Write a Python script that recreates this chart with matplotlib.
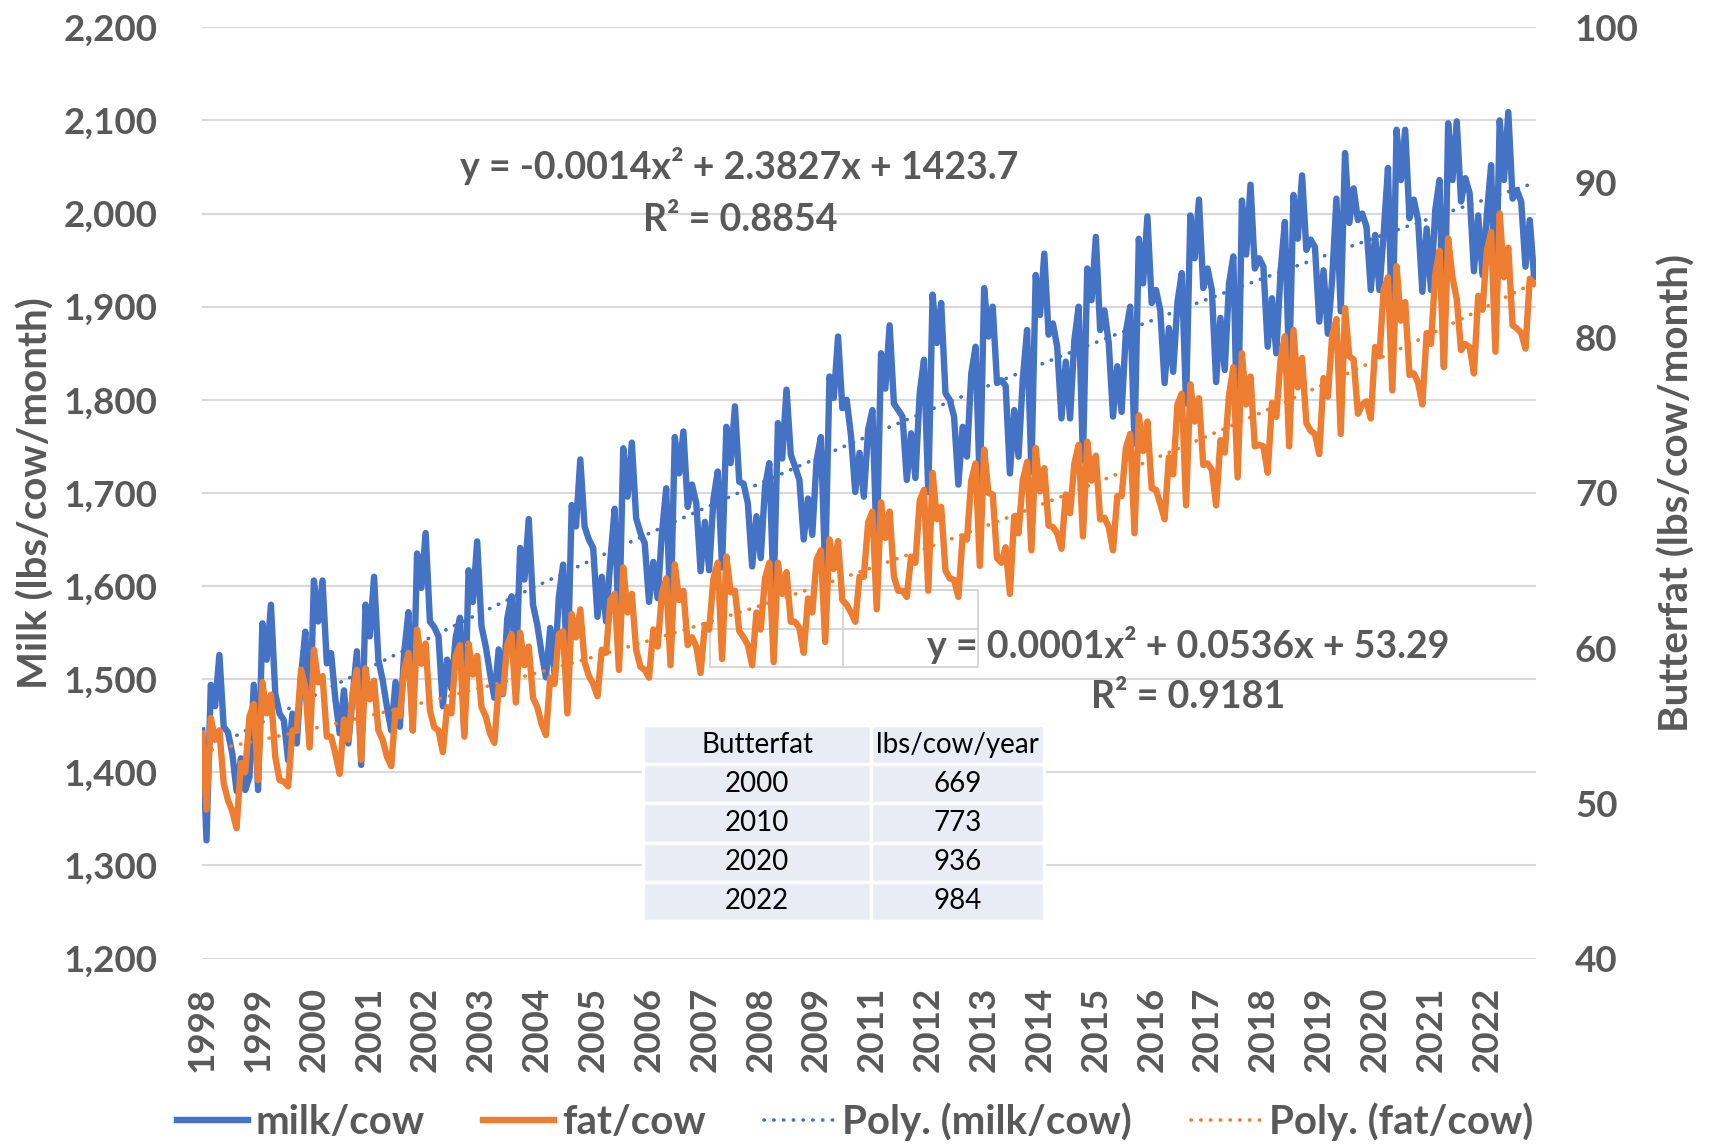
import numpy as np
import matplotlib
matplotlib.use("Agg")
import matplotlib.pyplot as plt
from matplotlib.patches import Rectangle
from matplotlib.lines import Line2D

# monthly milk per cow (lbs), Jan 1998 - Nov 2023
milk_per_cow = [
    1445, 1327, 1494, 1471, 1526, 1449, 1443, 1420, 1380, 1415, 1381, 1395,  # 1998
    1494, 1381, 1560, 1521, 1580, 1485, 1463, 1456, 1413, 1463, 1431, 1503,  # 1999
    1551, 1442, 1606, 1562, 1606, 1517, 1528, 1478, 1442, 1488, 1431, 1481,  # 2000
    1530, 1408, 1580, 1546, 1610, 1521, 1499, 1470, 1445, 1497, 1449, 1528,  # 2001
    1572, 1445, 1635, 1598, 1657, 1562, 1556, 1546, 1471, 1521, 1490, 1545,  # 2002
    1566, 1441, 1617, 1583, 1648, 1557, 1535, 1506, 1480, 1532, 1484, 1565,  # 2003
    1589, 1503, 1641, 1607, 1672, 1580, 1558, 1528, 1502, 1555, 1506, 1588,  # 2004
    1623, 1500, 1687, 1664, 1736, 1664, 1650, 1641, 1567, 1610, 1562, 1628,  # 2005
    1683, 1548, 1748, 1696, 1754, 1673, 1657, 1646, 1583, 1626, 1587, 1657,  # 2006
    1705, 1565, 1760, 1721, 1766, 1685, 1709, 1689, 1616, 1669, 1617, 1694,  # 2007
    1723, 1620, 1771, 1732, 1793, 1712, 1710, 1689, 1621, 1675, 1630, 1707,  # 2008
    1732, 1590, 1775, 1737, 1811, 1741, 1728, 1714, 1650, 1694, 1655, 1735,  # 2009
    1760, 1615, 1825, 1802, 1868, 1791, 1800, 1762, 1701, 1743, 1696, 1768,  # 2010
    1789, 1640, 1850, 1812, 1880, 1796, 1789, 1782, 1714, 1764, 1716, 1807,  # 2011
    1843, 1701, 1913, 1861, 1904, 1807, 1800, 1782, 1709, 1771, 1739, 1828,  # 2012
    1857, 1705, 1920, 1868, 1900, 1818, 1821, 1815, 1721, 1789, 1739, 1823,  # 2013
    1875, 1723, 1934, 1891, 1957, 1870, 1882, 1857, 1780, 1841, 1780, 1864,  # 2014
    1900, 1735, 1941, 1907, 1975, 1875, 1896, 1861, 1782, 1836, 1787, 1873,  # 2015
    1900, 1753, 1973, 1925, 1997, 1904, 1918, 1896, 1818, 1877, 1830, 1905,  # 2016
    1936, 1796, 1998, 1952, 2015, 1920, 1941, 1918, 1819, 1888, 1832, 1925,  # 2017
    1954, 1745, 2014, 1956, 2031, 1941, 1952, 1943, 1857, 1909, 1850, 1938,  # 2018
    1991, 1832, 2020, 1973, 2041, 1961, 1972, 1964, 1884, 1939, 1871, 1929,  # 2019
    2016, 1895, 2065, 1990, 2027, 1993, 2000, 1986, 1918, 1977, 1918, 1979,  # 2020
    2049, 1860, 2090, 2036, 2090, 1995, 2015, 1993, 1916, 1984, 1918, 2004,  # 2021
    2036, 1836, 2097, 2036, 2099, 2013, 2038, 2022, 1938, 1998, 1934, 1998,  # 2022
    2052, 1890, 2100, 2036, 2109, 2016, 2025, 2013, 1943, 1993, 1932,        # 2023
]

# monthly butterfat per cow (lbs)
fat_per_cow = [
    54.5, 49.6, 55.5, 54.1, 54.7, 51.3, 50.2, 49.5, 48.4, 52.6, 52.0, 55.6,  # 1998
    56.4, 51.5, 57.8, 55.8, 57.0, 53.0, 51.5, 51.4, 51.1, 54.7, 54.7, 58.6,  # 1999
    57.5, 53.6, 59.9, 57.8, 58.2, 54.3, 54.3, 53.2, 51.9, 55.4, 54.1, 57.1,  # 2000
    58.6, 52.8, 58.7, 56.7, 57.9, 54.7, 54.1, 53.0, 52.4, 56.0, 55.6, 58.6,  # 2001
    59.7, 54.7, 61.2, 59.0, 60.3, 56.0, 54.9, 54.7, 53.3, 56.2, 55.8, 59.5,  # 2002
    60.2, 54.3, 60.3, 58.3, 59.5, 56.2, 55.6, 54.5, 53.9, 57.5, 57.1, 60.2,  # 2003
    60.9, 56.5, 61.0, 58.9, 60.1, 56.8, 56.2, 55.1, 54.4, 58.1, 57.7, 60.9,  # 2004
    61.1, 55.8, 62.2, 60.7, 62.5, 59.1, 58.2, 57.7, 56.9, 59.9, 59.7, 63.1,  # 2005
    63.5, 58.6, 65.2, 62.3, 63.5, 59.9, 58.8, 58.6, 58.1, 61.2, 60.1, 63.5,  # 2006
    64.5, 58.9, 65.4, 63.1, 63.7, 60.2, 60.7, 60.1, 58.4, 61.5, 61.2, 64.5,  # 2007
    65.5, 59.3, 65.9, 63.6, 63.7, 61.1, 60.7, 60.2, 58.9, 62.3, 61.2, 64.5,  # 2008
    65.5, 59.1, 65.5, 63.5, 64.9, 61.7, 61.7, 61.3, 59.7, 63.2, 62.3, 65.7,  # 2009
    66.3, 60.4, 67.0, 65.1, 66.9, 63.1, 62.8, 62.3, 61.7, 64.6, 64.6, 68.1,  # 2010
    68.8, 62.5, 69.4, 67.1, 68.8, 64.6, 63.7, 63.7, 63.3, 65.9, 65.5, 69.5,  # 2011
    70.2, 63.7, 71.3, 68.3, 69.1, 65.0, 64.5, 64.4, 63.3, 67.2, 67.0, 70.8,  # 2012
    71.9, 65.3, 72.8, 70.0, 69.9, 65.8, 65.5, 66.5, 63.5, 68.5, 67.4, 70.8,  # 2013
    72.0, 66.3, 72.9, 70.1, 71.6, 67.9, 67.8, 67.4, 66.4, 69.9, 68.7, 71.9,  # 2014
    73.1, 67.2, 73.3, 70.8, 72.4, 68.3, 68.4, 67.8, 66.3, 69.8, 69.8, 72.9,  # 2015
    73.8, 67.4, 75.0, 72.7, 74.6, 70.3, 70.2, 69.3, 68.3, 72.3, 71.2, 75.7,  # 2016
    76.4, 69.2, 77.0, 74.6, 76.1, 71.8, 71.9, 71.5, 69.2, 73.4, 72.6, 76.3,  # 2017
    78.1, 71.0, 79.0, 75.7, 77.5, 73.0, 73.1, 73.0, 71.3, 75.8, 74.9, 78.6,  # 2018
    80.1, 73.0, 80.5, 76.8, 78.7, 74.5, 74.0, 73.8, 72.5, 77.4, 76.2, 80.1,  # 2019
    81.2, 73.8, 81.9, 78.8, 78.6, 75.1, 75.7, 75.9, 74.8, 79.4, 78.8, 83.1,  # 2020
    83.9, 76.6, 84.6, 81.1, 82.3, 77.6, 77.7, 77.1, 75.7, 80.3, 79.6, 84.1,  # 2021
    85.6, 78.1, 86.4, 83.9, 82.5, 79.2, 79.6, 79.4, 77.7, 82.7, 81.8, 85.6,  # 2022
    86.8, 79.1, 88.0, 83.9, 85.8, 80.8, 80.6, 80.3, 79.3, 83.8, 83.5,        # 2023
]

# category labels shown every 13 months on the axis
year_labels = ['1998', '1999', '2000', '2001', '2002', '2003', '2004', '2005',
               '2006', '2007', '2008', '2009', '2011', '2012', '2013', '2014',
               '2015', '2016', '2017', '2018', '2019', '2020', '2021', '2022']
label_step = 13

milk_eq = ["y = -0.0014x\u00b2 + 2.3827x + 1423.7", "R\u00b2 = 0.8854"]
fat_eq = ["y = 0.0001x\u00b2 + 0.0536x + 53.29", "R\u00b2 = 0.9181"]

table_header = ['Butterfat', 'lbs/cow/year']
table_years = ['2000', '2010', '2020', '2022']
table_fat = [669, 773, 936, 984]

BLUE = '#4472C4'
ORANGE = '#ED7D31'
GREY = '#595959'
FONT = ['Lato', 'DejaVu Sans']
W, H = 1714, 1146

fig = plt.figure(figsize=(W / 100, H / 100), dpi=100)
ax = fig.add_axes([202 / W, 1 - 958.6 / H, 1334 / W, 931.3 / H])
ax2 = ax.twinx()

x = np.arange(len(milk_per_cow))
milk = np.array(milk_per_cow, dtype=float)
fat = np.array(fat_per_cow, dtype=float)

# quadratic trends, fitted like Excel does (x = 1..n)
xf = x + 1
milk_trend = np.polyval(np.polyfit(xf, milk, 2), xf)
fat_trend = np.polyval(np.polyfit(xf, fat, 2), xf)

dots = (0, (0.1, 2.6))
ax.plot(x, milk, color=BLUE, lw=4.6, solid_joinstyle='round', zorder=3)
ax.plot(x, milk_trend, color=BLUE, lw=2.6, linestyle=dots,
        dash_capstyle='round', zorder=4)
ax2.plot(x, fat, color=ORANGE, lw=4.6, solid_joinstyle='round', zorder=3)
ax2.plot(x, fat_trend, color=ORANGE, lw=2.6, linestyle=dots,
         dash_capstyle='round', zorder=4)

ax.set_xlim(-0.05, len(x) - 1 + 0.45)
ax.set_ylim(1200, 2200)
ax2.set_ylim(40, 100)
ax.set_yticks(np.arange(1200, 2201, 100))
ax2.set_yticks(np.arange(40, 101, 10))
ax.set_xticks(np.arange(0, len(year_labels) * label_step, label_step))

tick_font = dict(family=FONT, weight='bold', size=26.5, color=GREY)
ax.set_yticklabels([f"{v:,}" for v in range(1200, 2201, 100)], **tick_font)
ax2.set_yticklabels([str(v) for v in range(40, 101, 10)], **tick_font)
ax.set_xticklabels(year_labels, rotation=90, **tick_font)

ax.tick_params(axis='y', length=0, pad=32)
ax2.tick_params(axis='y', length=0, pad=28)
ax.tick_params(axis='x', length=0, pad=20)
ax.grid(axis='y', color='#D9D9D9', lw=1.5)
ax.set_axisbelow(True)
for a in (ax, ax2):
    for s in a.spines.values():
        s.set_visible(False)

lab_font = dict(family=FONT, weight='bold', size=29, color=GREY)
ax.set_ylabel('Milk (lbs/cow/month)', va='center', **lab_font)
ax.yaxis.set_label_coords(-0.1244, 0.5)
ax2.set_ylabel('Butterfat (lbs/cow/month)', rotation=90, va='center', **lab_font)
ax2.yaxis.set_label_coords(1.1057, 0.5)


def fx(px):
    return px / W


def fy(py):
    return 1 - py / H


# leftover empty cell outlines behind the fat equation
box_color = '#D0D0D0'
ax.add_patch(Rectangle((fx(710), fy(667)), fx(978) - fx(710), fy(590) - fy(667),
                       transform=fig.transFigure, fill=False, ec=box_color,
                       lw=1.2, zorder=1, clip_on=False))
ax.add_line(Line2D([fx(843), fx(843)], [fy(590), fy(667)], transform=fig.transFigure,
                   color=box_color, lw=1.2, zorder=1, clip_on=False))
ax.add_line(Line2D([fx(710), fx(978)], [fy(629), fy(629)], transform=fig.transFigure,
                   color=box_color, lw=1.2, zorder=1, clip_on=False))

eq_font = dict(family=FONT, weight='bold', size=27, color=GREY,
               ha='center', va='center', zorder=10)
fig.text(fx(739), fy(166), milk_eq[0], **eq_font)
fig.text(fx(740), fy(220), milk_eq[1], **eq_font)
fig.text(fx(1188), fy(645), fat_eq[0], **eq_font)
fig.text(fx(1188), fy(697), fat_eq[1], **eq_font)

# small summary table
tx0, tx1, tx2 = 643, 871, 1044
ty0, row_h = 725, 39.2
rows = [table_header] + [[yr, str(v)] for yr, v in zip(table_years, table_fat)]
for i, row in enumerate(rows):
    top = ty0 + i * row_h
    for (c0, c1), txt in zip([(tx0, tx1), (tx1, tx2)], row):
        fig.add_artist(Rectangle((fx(c0), fy(top + row_h)), fx(c1) - fx(c0),
                                 fy(top) - fy(top + row_h), transform=fig.transFigure,
                                 fc='#E9EBF5', ec='white', lw=2.5, zorder=11))
        fig.text(fx((c0 + c1) / 2), fy(top + row_h / 2), txt,
                 family=FONT, size=20, color='black',
                 ha='center', va='center', zorder=12)

handles = [Line2D([], [], color=BLUE, lw=4.6),
           Line2D([], [], color=ORANGE, lw=4.6),
           Line2D([], [], color=BLUE, lw=2.6, linestyle=dots, dash_capstyle='round'),
           Line2D([], [], color=ORANGE, lw=2.6, linestyle=dots, dash_capstyle='round')]
labels = ['milk/cow', 'fat/cow', 'Poly. (milk/cow)', 'Poly. (fat/cow)']
leg = fig.legend(handles, labels, loc='center', bbox_to_anchor=(0.499, 0.021), ncol=4,
                 frameon=False, handlelength=1.75, handletextpad=0.2, columnspacing=1.45,
                 prop=dict(family=FONT, weight='bold', size=29))
for t in leg.get_texts():
    t.set_color(GREY)

fig.savefig('out.png', dpi=100)
